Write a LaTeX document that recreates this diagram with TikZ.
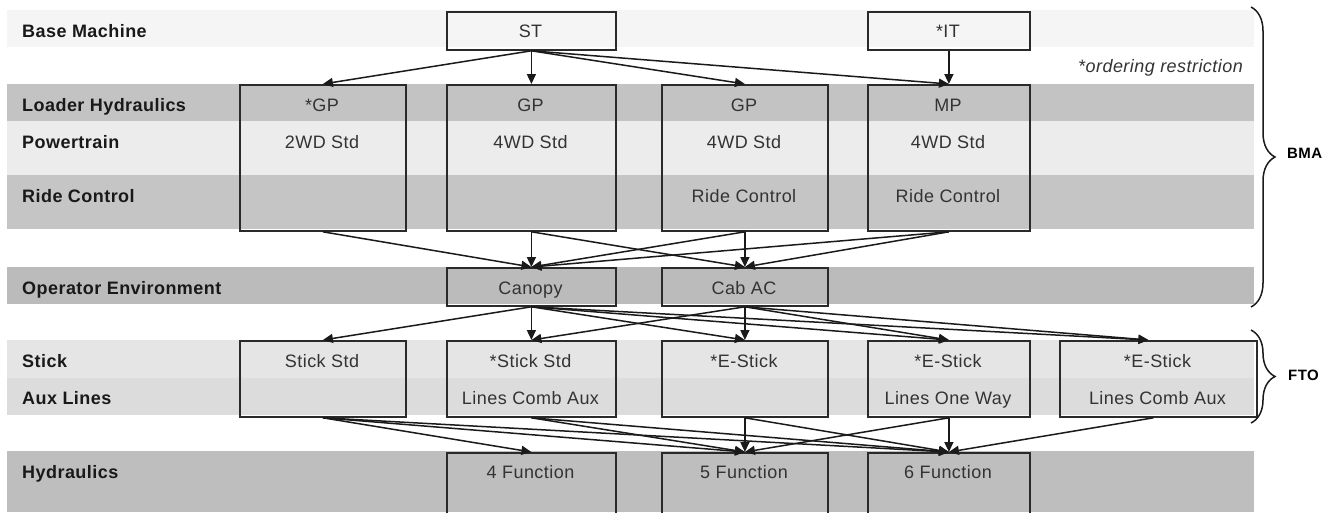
\documentclass[tikz,border=0pt]{standalone}
\usepackage{fontspec}
\setmainfont[LetterSpace=2.5]{Liberation Sans}
\usetikzlibrary{arrows.meta,decorations.pathreplacing,calc}
\definecolor{bBase}{HTML}{F5F5F5}
\definecolor{bLoad}{HTML}{C3C3C3}
\definecolor{bPow}{HTML}{ECECEC}
\definecolor{bRide}{HTML}{C5C5C5}
\definecolor{bOper}{HTML}{BBBBBB}
\definecolor{bStick}{HTML}{E5E5E5}
\definecolor{bAux}{HTML}{DCDCDC}
\definecolor{bHyd}{HTML}{BEBEBE}
\definecolor{boxline}{HTML}{2A2A2A}
\definecolor{conncol}{HTML}{1A1A1A}
\definecolor{txtcol}{HTML}{333333}
\begin{document}
\begin{tikzpicture}[x=1pt,y=-1pt,
  box/.style={draw=boxline, line width=1.8pt, inner sep=0pt, anchor=north west},
  conn/.style={draw=conncol, line width=1.5pt, -{Triangle[length=10pt,width=9pt]}},
  rowlabel/.style={anchor=base west, inner sep=0pt, font=\fontsize{18}{20}\selectfont\bfseries, text=black!90},
  boxtext/.style={anchor=base, inner sep=0pt, font=\fontsize{18}{20}\selectfont, text=txtcol},
  bracelabel/.style={anchor=base west, inner sep=0pt, font=\fontsize{15}{17}\selectfont\bfseries},
  bracestyle/.style={draw=conncol, line width=1.5pt, decorate, decoration={brace, amplitude=24pt}}]
\useasboundingbox (0,0) rectangle (1334,512);
% bands
\fill[bBase] (7,10) rectangle (1254,47);
\fill[bLoad] (7,84) rectangle (1254,121);
\fill[bPow] (7,121) rectangle (1254,175);
\fill[bRide] (7,175) rectangle (1254,229);
\fill[bOper] (7,267) rectangle (1254,304);
\fill[bStick] (7,340) rectangle (1254,378);
\fill[bAux] (7,378) rectangle (1254,415);
\fill[bHyd] (7,451) rectangle (1254,512);
% row labels
\node[rowlabel] (lBase) at (22,37) {Base Machine};
\node[rowlabel] (lLoad) at (22,111) {Loader Hydraulics};
\node[rowlabel] (lPow) at (22,148) {Powertrain};
\node[rowlabel] (lRide) at (22,202) {Ride Control};
\node[rowlabel] (lOper) at (22,294) {Operator Environment};
\node[rowlabel] (lStick) at (22,367) {Stick};
\node[rowlabel] (lAux) at (22,404) {Aux Lines};
\node[rowlabel] (lHyd) at (22,478) {Hydraulics};
% boxes
\node[box, minimum width=169pt, minimum height=38pt] (st) at (446,11) {};
\node[box, minimum width=162pt, minimum height=38pt] (it) at (867,11) {};
\node[box, minimum width=166pt, minimum height=146pt] (lh1) at (239,84) {};
\node[box, minimum width=169pt, minimum height=146pt] (lh2) at (446,84) {};
\node[box, minimum width=166pt, minimum height=146pt] (lh3) at (661,84) {};
\node[box, minimum width=162pt, minimum height=146pt] (lh4) at (867,84) {};
\node[box, minimum width=169pt, minimum height=38pt] (canopy) at (446,267) {};
\node[box, minimum width=166pt, minimum height=38pt] (cab) at (661,267) {};
\node[box, minimum width=166pt, minimum height=76pt] (s1) at (239,340) {};
\node[box, minimum width=169pt, minimum height=76pt] (s2) at (446,340) {};
\node[box, minimum width=166pt, minimum height=76pt] (s3) at (661,340) {};
\node[box, minimum width=162pt, minimum height=76pt] (s4) at (867,340) {};
\node[box, minimum width=197pt, minimum height=76pt] (s5) at (1059,340) {};
\node[box, minimum width=169pt, minimum height=80pt] (h4) at (446,452) {};
\node[box, minimum width=166pt, minimum height=80pt] (h5) at (661,452) {};
\node[box, minimum width=162pt, minimum height=80pt] (h6) at (867,452) {};
% box texts
\node[boxtext] (tst) at (530.5,37) {ST};
\node[boxtext] (tit) at (948,37) {*IT};
\node[boxtext] (t1a) at (322,111) {*GP};
\node[boxtext] (t1b) at (322,148) {2WD Std};
\node[boxtext] (t2a) at (530.5,111) {GP};
\node[boxtext] (t2b) at (530.5,148) {4WD Std};
\node[boxtext] (t3a) at (744,111) {GP};
\node[boxtext] (t3b) at (744,148) {4WD Std};
\node[boxtext] (t3c) at (744,202) {Ride Control};
\node[boxtext] (t4a) at (948,111) {MP};
\node[boxtext] (t4b) at (948,148) {4WD Std};
\node[boxtext] (t4c) at (948,202) {Ride Control};
\node[boxtext] (tcan) at (530.5,294) {Canopy};
\node[boxtext] (tcab) at (744,294) {Cab AC};
\node[boxtext] (ts1a) at (322,367) {Stick Std};
\node[boxtext] (ts2a) at (530.5,367) {*Stick Std};
\node[boxtext] (ts2b) at (530.5,404) {Lines Comb Aux};
\node[boxtext] (ts3a) at (744,367) {*E-Stick};
\node[boxtext] (ts4a) at (948,367) {*E-Stick};
\node[boxtext] (ts4b) at (948,404) {Lines One Way};
\node[boxtext] (ts5a) at (1157.5,367) {*E-Stick};
\node[boxtext] (ts5b) at (1157.5,404) {Lines Comb Aux};
\node[boxtext] (th4) at (530.5,478) {4 Function};
\node[boxtext] (th5) at (744,478) {5 Function};
\node[boxtext] (th6) at (948,478) {6 Function};
\node[anchor=base east, inner sep=0pt, font=\fontsize{18}{20}\selectfont\itshape, text=txtcol] (ordr) at (1243,72) {*ordering restriction};
% connectors level 1
\draw[conn] (st.south) -- (lh1.north);
\draw[conn] (st.south) -- (lh2.north);
\draw[conn] (st.south) -- (lh3.north);
\draw[conn] (st.south) -- (lh4.north);
\draw[conn] (it.south) -- (lh4.north);
% level 2
\draw[conn] (lh1.south) -- (canopy.north);
\draw[conn] (lh2.south) -- (canopy.north);
\draw[conn] (lh2.south) -- (cab.north);
\draw[conn] (lh3.south) -- (canopy.north);
\draw[conn] (lh3.south) -- (cab.north);
\draw[conn] (lh4.south) -- (canopy.north);
\draw[conn] (lh4.south) -- (cab.north);
% level 3
\coordinate (s5in) at ($(s5.north)+(-10,0)$);
\draw[conn] (canopy.south) -- (s1.north);
\draw[conn] (canopy.south) -- (s2.north);
\draw[conn] (canopy.south) -- (s3.north);
\draw[conn] (canopy.south) -- (s4.north);
\draw[conn] (canopy.south) -- (s5in);
\draw[conn] (cab.south) -- (s2.north);
\draw[conn] (cab.south) -- (s3.north);
\draw[conn] (cab.south) -- (s4.north);
\draw[conn] (cab.south) -- (s5in);
% level 4
\coordinate (s5out) at ($(s5.south)+(-5,0)$);
\draw[conn] (s1.south) -- (h4.north);
\draw[conn] (s1.south) -- (h5.north);
\draw[conn] (s1.south) -- (h6.north);
\draw[conn] (s2.south) -- (h5.north);
\draw[conn] (s2.south) -- (h6.north);
\draw[conn] (s3.south) -- (h5.north);
\draw[conn] (s3.south) -- (h6.north);
\draw[conn] (s4.south) -- (h5.north);
\draw[conn] (s4.south) -- (h6.north);
\draw[conn] (s5out) -- (h6.north);
% braces
\coordinate (bmaTop) at (1251,7);
\coordinate (bmaBot) at (1251,307);
\coordinate (ftoTop) at (1251,330);
\coordinate (ftoBot) at (1251,423);
\draw[bracestyle] (bmaTop) -- (bmaBot);
\draw[bracestyle] (ftoTop) -- (ftoBot);
\node[bracelabel] (bma) at (1287,158) {BMA};
\node[bracelabel] (fto) at (1288,380) {FTO};
\end{tikzpicture}
\end{document}
